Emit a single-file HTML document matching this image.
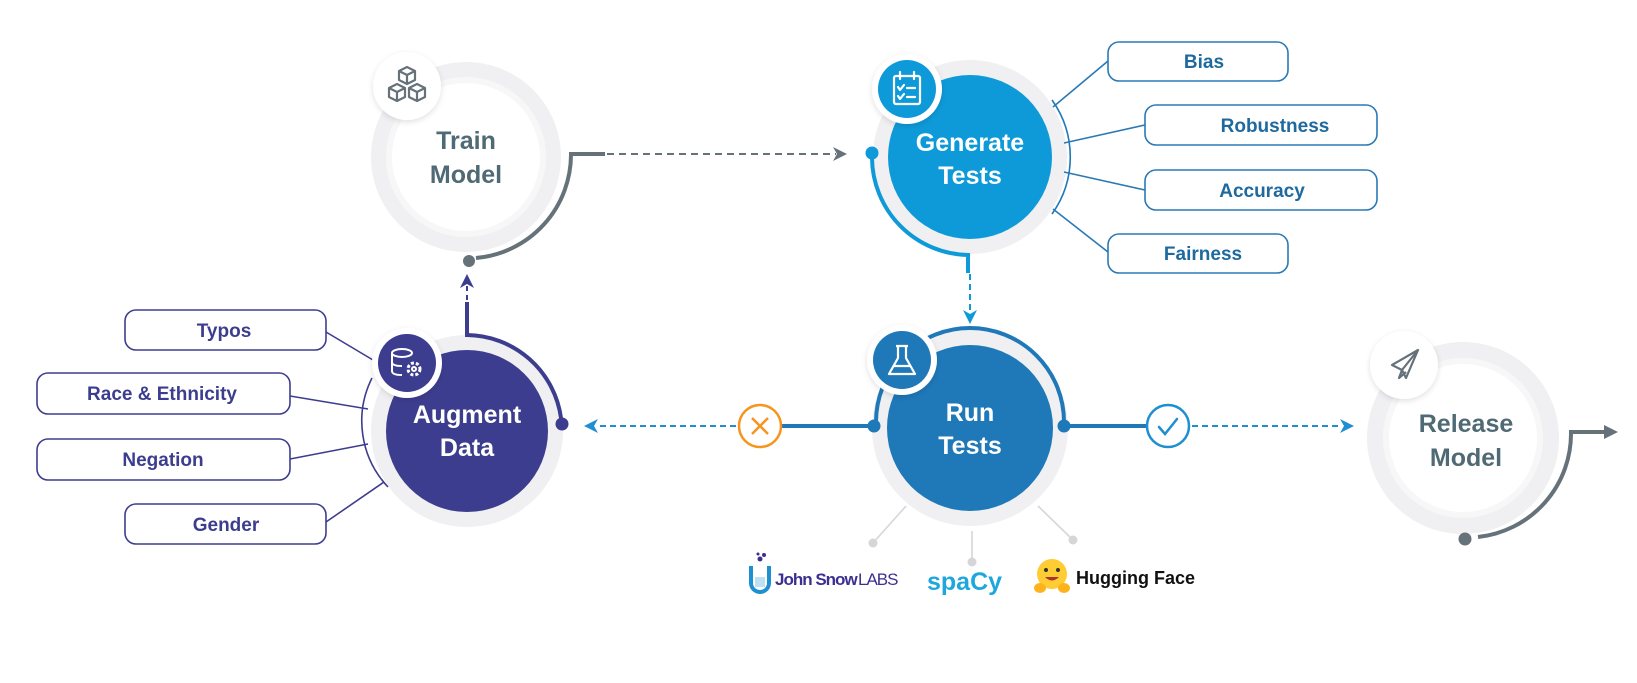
<!DOCTYPE html>
<html><head><meta charset="utf-8"><style>
html,body{margin:0;padding:0;background:#fff}
svg{display:block}
text{font-family:"Liberation Sans","DejaVu Sans",sans-serif}
</style></head><body>
<svg width="1637" height="683" viewBox="0 0 1637 683" xmlns="http://www.w3.org/2000/svg">
<defs>
<filter id="sh" x="-30%" y="-30%" width="160%" height="160%"><feDropShadow dx="0" dy="2" stdDeviation="3" flood-color="#000" flood-opacity="0.12"/></filter>
</defs>

<!-- ============ TRAIN MODEL ============ -->
<circle cx="466" cy="157" r="95" fill="#f0f0f2"/>
<circle cx="466" cy="157" r="80" fill="#f7f7f8"/>
<circle cx="466" cy="157" r="74" fill="#fff"/>
<text x="466" y="149" text-anchor="middle" font-size="25" fill="#4f6a74" font-weight="600">Train</text>
<text x="466" y="183" text-anchor="middle" font-size="25" fill="#4f6a74" font-weight="600">Model</text>
<circle cx="407" cy="86" r="34" fill="#fff" filter="url(#sh)"/>
<g fill="none" stroke="#66727a" stroke-width="2.2" stroke-linejoin="round">
<path d="M407 67 l8 4 v9 l-8 4 l-8 -4 v-9z M399 71 l8 4 l8 -4 M407 75 v9"/>
<path d="M397 84 l8 4 v9 l-8 4 l-8 -4 v-9z M389 88 l8 4 l8 -4 M397 92 v9"/>
<path d="M417 84 l8 4 v9 l-8 4 l-8 -4 v-9z M409 88 l8 4 l8 -4 M417 92 v9"/>
</g>
<path d="M476 258 A104 104 0 0 0 571 154 H605" fill="none" stroke="#66727a" stroke-width="4"/>
<circle cx="469" cy="261" r="6" fill="#66727a"/>
<line x1="607" y1="154" x2="836" y2="154" stroke="#66727a" stroke-width="2" stroke-dasharray="7,5"/>
<path d="M847 154 l-14 -7 l4 7 l-4 7z" fill="#66727a"/>

<!-- ============ GENERATE TESTS ============ -->
<path d="M1052 100 A98 98 0 0 1 1052 214" fill="none" stroke="#1f78b8" stroke-width="1.6"/>
<circle cx="970" cy="157" r="97" fill="#f0f0f2"/>
<circle cx="970" cy="157" r="82" fill="#0e9ad8"/>
<text x="970" y="151" text-anchor="middle" font-size="25" fill="#fff" font-weight="600">Generate</text>
<text x="970" y="184" text-anchor="middle" font-size="25" fill="#fff" font-weight="600">Tests</text>
<circle cx="907" cy="89" r="35" fill="#fff" filter="url(#sh)"/>
<circle cx="907" cy="89" r="29" fill="#0e9ad8"/>
<g fill="none" stroke="#fff" stroke-width="2.2" stroke-linecap="round" stroke-linejoin="round">
<rect x="894" y="76" width="26" height="28" rx="2"/>
<path d="M900 72 v7 M914 72 v7 M898 87 l2 3 l4 -5 M907 88 h8 M898 96 l2 3 l4 -5 M907 97 h8"/>
</g>
<path d="M872 158 A98 98 0 0 0 968 255 V273" fill="none" stroke="#0e9ad8" stroke-width="4"/>
<circle cx="872" cy="153" r="6.5" fill="#0e9ad8"/>
<line x1="970" y1="274" x2="970" y2="312" stroke="#0e9ad8" stroke-width="2" stroke-dasharray="6,4"/>
<path d="M970 324 l-7 -14 l7 4 l7 -4z" fill="#0e9ad8"/>

<!-- boxes right -->
<g fill="none" stroke="#2a79b5" stroke-width="1.6">
<line x1="1053" y1="107" x2="1108" y2="61"/>
<line x1="1064" y1="143" x2="1145" y2="125"/>
<line x1="1064" y1="172" x2="1145" y2="190"/>
<line x1="1053" y1="209" x2="1108" y2="252"/>
<rect x="1108" y="42" width="180" height="39" rx="11" fill="#fff"/>
<rect x="1145" y="105" width="232" height="40" rx="11" fill="#fff"/>
<rect x="1145" y="170" width="232" height="40" rx="11" fill="#fff"/>
<rect x="1108" y="234" width="180" height="39" rx="11" fill="#fff"/>
</g>
<g font-size="19" font-weight="bold" fill="#1e6a9e" text-anchor="middle">
<text x="1204" y="68">Bias</text>
<text x="1275" y="132">Robustness</text>
<text x="1262" y="197">Accuracy</text>
<text x="1203" y="260">Fairness</text>
</g>

<!-- ============ RUN TESTS ============ -->
<circle cx="970" cy="428" r="98" fill="#f0f0f2"/>
<circle cx="970" cy="428" r="83" fill="#1f78b8"/>
<text x="970" y="421" text-anchor="middle" font-size="25" fill="#fff" font-weight="600">Run</text>
<text x="970" y="454" text-anchor="middle" font-size="25" fill="#fff" font-weight="600">Tests</text>
<path d="M876 422 A94 94 0 0 1 1064 422" fill="none" stroke="#1f78b8" stroke-width="4"/>
<circle cx="902" cy="360" r="35" fill="#fff" filter="url(#sh)"/>
<circle cx="902" cy="360" r="29" fill="#1f78b8"/>
<g fill="none" stroke="#fff" stroke-width="2.2" stroke-linejoin="round">
<path d="M896 346 h12 M898 346 v12 l-9 16 h26 l-9 -16 v-12"/>
<path d="M893 366 h18"/>
</g>
<circle cx="874" cy="426" r="6.5" fill="#1f78b8"/>
<circle cx="1064" cy="426" r="6.5" fill="#1f78b8"/>
<line x1="874" y1="426" x2="782" y2="426" stroke="#1f78b8" stroke-width="4"/>
<line x1="1064" y1="426" x2="1146" y2="426" stroke="#1f78b8" stroke-width="4"/>
<circle cx="760" cy="426" r="21" fill="#fff" stroke="#f7941d" stroke-width="2.5"/>
<path d="M752 418 l16 16 M768 418 l-16 16" stroke="#f7941d" stroke-width="2.5"/>
<circle cx="1168" cy="426" r="21" fill="#fff" stroke="#1e8fd0" stroke-width="2.5"/>
<path d="M1159 427 l6 7 l12 -15" fill="none" stroke="#1e8fd0" stroke-width="2.5" stroke-linecap="round"/>
<line x1="736" y1="426" x2="598" y2="426" stroke="#1e8fd0" stroke-width="2" stroke-dasharray="6,4"/>
<path d="M584 426 l14 -7 l-4 7 l4 7z" fill="#1e8fd0"/>
<line x1="1192" y1="426" x2="1340" y2="426" stroke="#1e8fd0" stroke-width="2" stroke-dasharray="6,4"/>
<path d="M1354 426 l-14 -7 l4 7 l-4 7z" fill="#1e8fd0"/>

<!-- spokes -->
<g stroke="#d6d6d8" stroke-width="1.6">
<line x1="906" y1="506" x2="873" y2="543"/>
<line x1="972" y1="531" x2="972" y2="562"/>
<line x1="1038" y1="506" x2="1073" y2="540"/>
</g>
<g fill="#d6d6d8"><circle cx="873" cy="543" r="4.5"/><circle cx="972" cy="562" r="4.5"/><circle cx="1073" cy="540" r="4.5"/></g>

<!-- logos -->
<path d="M751 566 v17 a9 9 0 0 0 18 0 v-17" fill="none" stroke="#1e8fd0" stroke-width="4"/>
<rect x="755" y="577" width="10" height="10" fill="#bfe0f3"/>
<circle cx="760" cy="559" r="2.5" fill="#3b2f8f"/><circle cx="764" cy="555" r="2" fill="#3b2f8f"/><circle cx="758" cy="554" r="1.5" fill="#3b2f8f"/>
<text x="775" y="585" font-size="17" font-weight="bold" fill="#3b2f8f" letter-spacing="-1">John Snow</text>
<text x="858" y="585" font-size="17" fill="#3b2f8f" letter-spacing="-1">LABS</text>
<text x="927" y="590" font-size="25" font-weight="bold" fill="#1ea7dc">spaCy</text>
<circle cx="1052" cy="574" r="15" fill="#ffcc33"/>
<circle cx="1046" cy="570" r="2" fill="#333"/><circle cx="1058" cy="570" r="2" fill="#333"/>
<path d="M1045 577 q7 7 14 0z" fill="#a33"/>
<ellipse cx="1040" cy="588" rx="6" ry="5" fill="#ffb31a"/><ellipse cx="1064" cy="588" rx="6" ry="5" fill="#ffb31a"/>
<text x="1076" y="584" font-size="18" font-weight="bold" fill="#111">Hugging Face</text>

<!-- ============ AUGMENT DATA ============ -->
<path d="M372 378 A96 96 0 0 0 388 487" fill="none" stroke="#3d3d8f" stroke-width="1.6"/>
<g stroke="#3d3d8f" stroke-width="1.6">
<line x1="326" y1="332" x2="373" y2="360"/>
<line x1="290" y1="396" x2="368" y2="409"/>
<line x1="290" y1="459" x2="368" y2="444"/>
<line x1="326" y1="522" x2="384" y2="482"/>
</g>
<circle cx="467" cy="431" r="96" fill="#f0f0f2"/>
<circle cx="467" cy="431" r="81" fill="#3d3d8f"/>
<text x="467" y="423" text-anchor="middle" font-size="25" fill="#fff" font-weight="600">Augment</text>
<text x="467" y="456" text-anchor="middle" font-size="25" fill="#fff" font-weight="600">Data</text>
<path d="M467 302 V335 A96 96 0 0 1 561 418" fill="none" stroke="#3d3d8f" stroke-width="4"/>
<circle cx="562" cy="424" r="6.5" fill="#3d3d8f"/>
<line x1="467" y1="300" x2="467" y2="286" stroke="#3d3d8f" stroke-width="2" stroke-dasharray="5,4"/>
<path d="M467 274 l-7 14 l7 -4 l7 4z" fill="#3d3d8f"/>
<circle cx="407" cy="363" r="35" fill="#fff" filter="url(#sh)"/>
<circle cx="407" cy="363" r="29" fill="#3d3d8f"/>
<g fill="none" stroke="#fff" stroke-width="2">
<ellipse cx="402" cy="353" rx="10" ry="4"/>
<path d="M392 353 v18 q0 4 10 4 M392 362 q0 4 10 4"/>
<circle cx="414" cy="369" r="6" stroke-dasharray="3,2" stroke-width="3"/>
<circle cx="414" cy="369" r="2"/>
</g>

<!-- boxes left -->
<g fill="#fff" stroke="#3d3d8f" stroke-width="1.6">
<rect x="125" y="310" width="201" height="40" rx="11"/>
<rect x="37" y="373" width="253" height="41" rx="11"/>
<rect x="37" y="439" width="253" height="41" rx="11"/>
<rect x="125" y="504" width="201" height="40" rx="11"/>
</g>
<g font-size="19" font-weight="bold" fill="#3d3d8f" text-anchor="middle">
<text x="224" y="337">Typos</text>
<text x="162" y="400">Race &amp; Ethnicity</text>
<text x="163" y="466">Negation</text>
<text x="226" y="531">Gender</text>
</g>

<!-- ============ RELEASE MODEL ============ -->
<circle cx="1463" cy="438" r="96" fill="#f0f0f2"/>
<circle cx="1463" cy="438" r="80" fill="#f7f7f8"/>
<circle cx="1463" cy="438" r="74" fill="#fff"/>
<text x="1466" y="432" text-anchor="middle" font-size="25" fill="#4f6a74" font-weight="600">Release</text>
<text x="1466" y="466" text-anchor="middle" font-size="25" fill="#4f6a74" font-weight="600">Model</text>
<circle cx="1404" cy="365" r="34" fill="#fff" filter="url(#sh)"/>
<path d="M1418 350 l-26 15 l10 5 z M1418 350 l-12 28 l-4 -8 M1402 370 l-3 8 l7 -6" fill="none" stroke="#66727a" stroke-width="2.2" stroke-linejoin="round"/>
<path d="M1478 537 A104 104 0 0 0 1571 432 H1604" fill="none" stroke="#66727a" stroke-width="4"/>
<path d="M1618 432 l-14 -7 v14z" fill="#66727a"/>
<circle cx="1465" cy="539" r="6.5" fill="#66727a"/>
</svg>
</body></html>
